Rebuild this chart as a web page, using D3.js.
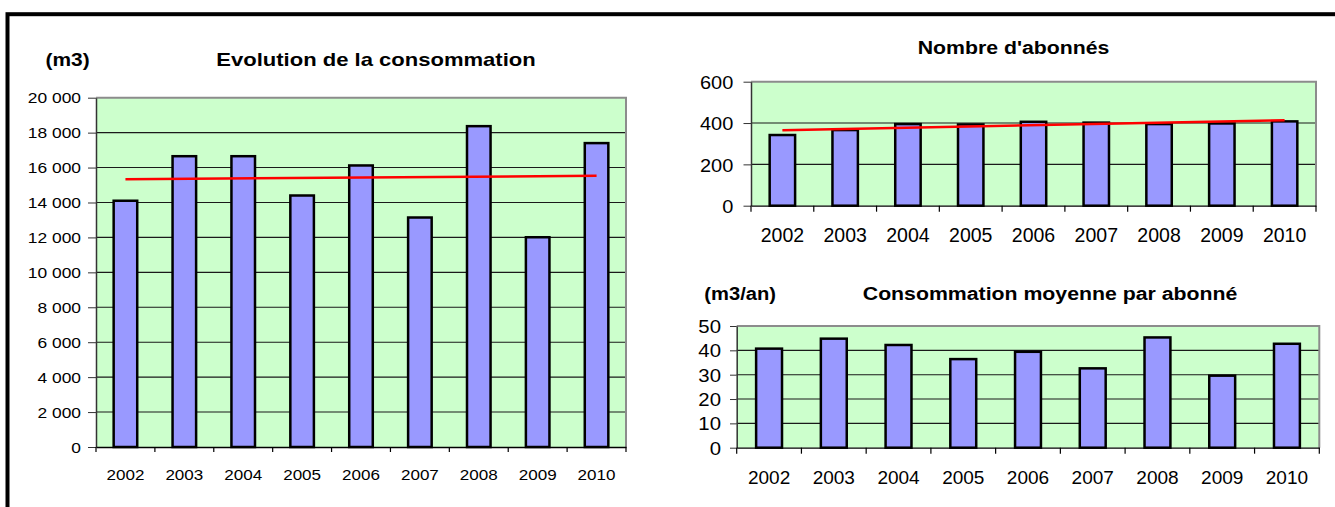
<!DOCTYPE html>
<html>
<head>
<meta charset="utf-8">
<script src="https://cdn.jsdelivr.net/npm/d3@7"></script>
<style>
  html, body { margin: 0; padding: 0; background: #fff; }
  svg { display: block; }
  text { font-family: "Liberation Sans", Arial, sans-serif; fill: #000; }
</style>
</head>
<body>
<svg id="chart" width="1335" height="507"></svg>
<script>
// ---------------- DATA ----------------
const years = ["2002", "2003", "2004", "2005", "2006", "2007", "2008", "2009", "2010"];
const consommation = [14100, 16650, 16650, 14400, 16120, 13140, 18370, 12010, 17400]; // m3
const abonnes = [342, 366, 395, 393, 406, 402, 395, 398, 408];
const consoMoyenne = [40.7, 44.8, 42.2, 36.4, 39.4, 32.6, 45.3, 29.6, 42.7]; // m3/an
const consoTicks = [0, 2000, 4000, 6000, 8000, 10000, 12000, 14000, 16000, 18000, 20000];
const abonnesTicks = [0, 200, 400, 600];
const moyenneTicks = [0, 10, 20, 30, 40, 50];

const titleConso = "Evolution de la consommation";
const unitConso = "(m3)";
const titleAbonnes = "Nombre d'abonnés";
const titleMoyenne = "Consommation moyenne par abonné";
const unitMoyenne = "(m3/an)";

// ---------------- HELPERS ----------------
const svg = d3.select("#chart");
const frLocale = d3.formatLocale({ decimal: ",", thousands: " ", grouping: [3], currency: ["", " €"] });
const fmtThousands = frLocale.format(",d");

svg.append("rect")
  .attr("x", 7.5).attr("y", 14.2)
  .attr("width", 1400).attr("height", 600)
  .attr("fill", "none").attr("stroke", "#000").attr("stroke-width", 4);

function stretchedText(g, x, y, str, size, sx, anchor, bold) {
  return g.append("text")
    .attr("transform", `translate(${x},${y}) scale(${sx},1)`)
    .attr("text-anchor", anchor)
    .style("font-size", size + "px")
    .style("font-weight", bold ? "bold" : "normal")
    .text(str);
}

function drawChart(cfg) {
  const g = svg.append("g");
  const { x0, x1, yTop, yBot, values, ticks, fmt } = cfg;

  const x = d3.scaleBand().domain(years).range([x0, x1]).padding(0);
  const y = d3.scaleLinear().domain([ticks[0], ticks[ticks.length - 1]]).range([yBot, yTop]);

  // plot area
  g.append("rect")
    .attr("x", x0).attr("y", yTop)
    .attr("width", x1 - x0).attr("height", yBot - yTop)
    .attr("fill", "#CCFFCC");

  // gridlines
  g.selectAll("line.grid")
    .data(ticks.filter(t => t !== ticks[0] && t !== ticks[ticks.length - 1]))
    .join("line")
    .attr("class", "grid")
    .attr("x1", x0).attr("x2", x1)
    .attr("y1", d => y(d)).attr("y2", d => y(d))
    .attr("stroke", "#1a1a1a").attr("stroke-width", 1.1);

  // plot border top / right (gray)
  g.append("path")
    .attr("d", `M${x0},${yTop}H${x1}V${yBot}`)
    .attr("fill", "none").attr("stroke", "#8c8c8c").attr("stroke-width", 2);

  // bars
  const bw = x.bandwidth() * cfg.barRatio;
  g.selectAll("rect.bar")
    .data(values)
    .join("rect")
    .attr("class", "bar")
    .attr("x", (d, i) => x(years[i]) + (x.bandwidth() - bw) / 2)
    .attr("width", bw)
    .attr("y", d => y(d))
    .attr("height", d => yBot - y(d))
    .attr("fill", "#9999FF")
    .attr("stroke", "#000")
    .attr("stroke-width", 2.5);

  // trend line (least squares)
  if (cfg.trend) {
    const n = values.length;
    const idx = d3.range(n);
    const mx = d3.mean(idx), my = d3.mean(values);
    const slope = d3.sum(idx, i => (i - mx) * (values[i] - my)) / d3.sum(idx, i => (i - mx) * (i - mx));
    const fit = i => my + slope * (i - mx);
    const pts = [0, n - 1].map(i => [x(years[i]) + x.bandwidth() / 2, y(fit(i))]);
    g.append("path")
      .attr("d", d3.line()(pts))
      .attr("stroke", "#FF0000").attr("stroke-width", 2.5).attr("fill", "none");
  }

  // y axis
  const yAxis = g.append("g")
    .attr("transform", `translate(${x0},0)`)
    .call(d3.axisLeft(y).tickValues(ticks).tickSize(cfg.yTick).tickSizeOuter(0).tickFormat(fmt));
  yAxis.select(".domain").attr("stroke", "#333").attr("stroke-width", 1.5);
  yAxis.selectAll(".tick line").attr("stroke", "#333");
  yAxis.selectAll(".tick text")
    .attr("x", -cfg.yLabelGap / cfg.yLabelSx)
    .attr("transform", `scale(${cfg.yLabelSx},1)`)
    .attr("dy", "0.35em")
    .style("font-size", cfg.yLabelSize + "px")
    .style("font-family", '"Liberation Sans", Arial, sans-serif');

  // x axis: labels at centers
  const xAxis = g.append("g")
    .attr("transform", `translate(0,${yBot})`)
    .call(d3.axisBottom(x).tickSize(0).tickSizeOuter(0));
  xAxis.select(".domain").attr("stroke", "#000").attr("stroke-width", 1.3);
  xAxis.selectAll(".tick text")
    .attr("y", 0).attr("dy", 0)
    .attr("transform", `translate(0,${cfg.xLabelBase - yBot}) scale(${cfg.xLabelSx},1)`)
    .style("font-size", cfg.xLabelSize + "px")
    .style("font-family", '"Liberation Sans", Arial, sans-serif');
  // x tick marks at category boundaries
  g.selectAll("line.xtick")
    .data(years.map(d => x(d)).concat([x1]))
    .join("line")
    .attr("class", "xtick")
    .attr("x1", d => d).attr("x2", d => d)
    .attr("y1", yBot).attr("y2", yBot + cfg.xTick)
    .attr("stroke", "#000").attr("stroke-width", 1.2);

  // titles
  stretchedText(g, cfg.titleX, cfg.titleY, cfg.title, cfg.titleSize, cfg.titleSx, "middle", true);
  if (cfg.unit) {
    stretchedText(g, cfg.unitX, cfg.titleY, cfg.unit, cfg.titleSize, cfg.unitSx, "start", true);
  }
}

// ---------------- CHARTS ----------------
drawChart({
  x0: 96, x1: 626, yTop: 97.7, yBot: 447,
  values: consommation, ticks: consoTicks, fmt: fmtThousands,
  barRatio: 0.4, trend: true,
  yTick: 8, yLabelGap: 15, yLabelSx: 1.2, yLabelSize: 14.5,
  xTick: 5, xLabelBase: 480, xLabelSx: 1.1, xLabelSize: 15.5,
  title: titleConso, titleX: 376, titleY: 65.5, titleSize: 19, titleSx: 1.16,
  unit: unitConso, unitX: 45.5, unitSx: 1.1
});

drawChart({
  x0: 751, x1: 1316, yTop: 81.7, yBot: 205.7,
  values: abonnes, ticks: abonnesTicks, fmt: d3.format("d"),
  barRatio: 0.405, trend: true,
  yTick: 7.5, yLabelGap: 17.7, yLabelSx: 1.05, yLabelSize: 19,
  xTick: 6, xLabelBase: 242.3, xLabelSx: 1.0, xLabelSize: 19.5,
  title: titleAbonnes, titleX: 1013.6, titleY: 53.5, titleSize: 18.5, titleSx: 1.15
});

drawChart({
  x0: 736.7, x1: 1319.3, yTop: 326, yBot: 447.7,
  values: consoMoyenne, ticks: moyenneTicks, fmt: d3.format("d"),
  barRatio: 0.4, trend: false,
  yTick: 6.7, yLabelGap: 15.7, yLabelSx: 1.1, yLabelSize: 18.5,
  xTick: 6, xLabelBase: 484, xLabelSx: 1.0, xLabelSize: 19,
  title: titleMoyenne, titleX: 1050, titleY: 300, titleSize: 18.5, titleSx: 1.15,
  unit: unitMoyenne, unitX: 704.3, unitSx: 1.09
});
</script>
</body>
</html>
